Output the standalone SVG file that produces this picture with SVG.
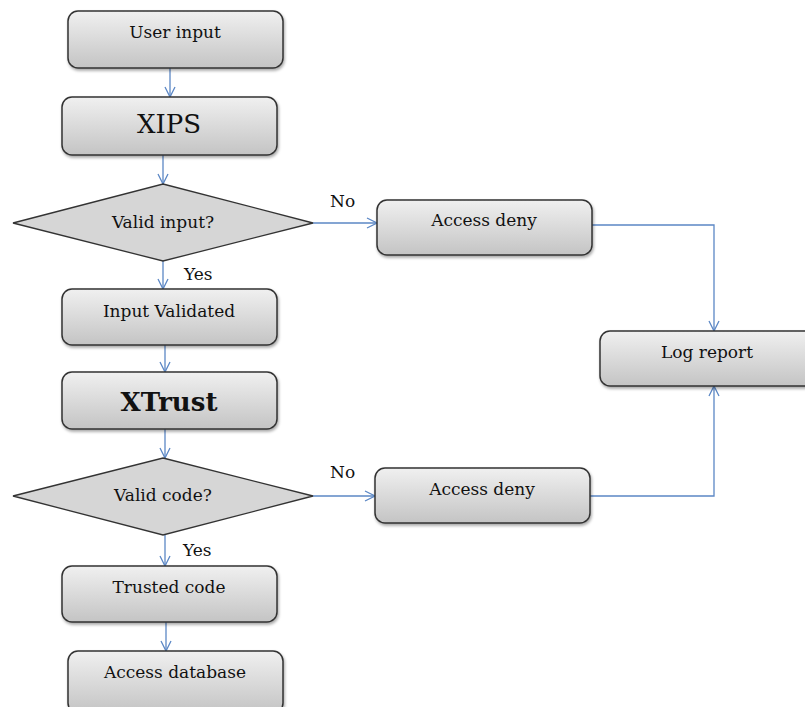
<svg xmlns="http://www.w3.org/2000/svg" width="805" height="707" viewBox="0 0 805 707">
<defs>
<linearGradient id="g" x1="0" y1="0" x2="0" y2="1">
<stop offset="0" stop-color="#f0f0f0"/>
<stop offset="1" stop-color="#c4c4c4"/>
</linearGradient>
<filter id="sh" x="-10%" y="-10%" width="125%" height="135%">
<feDropShadow dx="1" dy="2" stdDeviation="1.5" flood-color="#000" flood-opacity="0.35"/>
</filter>
<marker id="ar" viewBox="0 0 12 12" refX="11" refY="6" markerWidth="12" markerHeight="12" markerUnits="userSpaceOnUse" orient="auto">
<path d="M1,1 L11,6 L1,11" fill="none" stroke="#5b87c5" stroke-width="1.3"/>
</marker>
</defs>
<style>
.box{fill:url(#g);stroke:#333;stroke-width:1.5;filter:url(#sh)}
.dia{fill:#d6d6d6;stroke:#333;stroke-width:1.3}
.t{font-family:"DejaVu Serif","Liberation Serif",serif;font-size:17px;fill:#111;text-anchor:middle}
.big{font-family:"DejaVu Serif","Liberation Serif",serif;font-size:26px;fill:#111;text-anchor:middle}
.lb{font-family:"DejaVu Serif","Liberation Serif",serif;font-size:17px;fill:#111}
.c{fill:none;stroke:#5b87c5;stroke-width:1.3;marker-end:url(#ar)}
</style>
<rect width="805" height="707" fill="#fff"/>
<g id="connectors">
<line class="c" x1="170" y1="68" x2="170" y2="97"/>
<line class="c" x1="163" y1="155" x2="163" y2="184"/>
<line class="c" x1="313" y1="223" x2="377" y2="223"/>
<polyline class="c" points="592,225 714,225 714,331"/>
<line class="c" x1="163" y1="261" x2="163" y2="289"/>
<line class="c" x1="165" y1="345" x2="165" y2="372"/>
<line class="c" x1="165" y1="429" x2="165" y2="458"/>
<line class="c" x1="313" y1="496" x2="375" y2="496"/>
<polyline class="c" points="590,496 714,496 714,386"/>
<line class="c" x1="165" y1="535" x2="165" y2="566"/>
<line class="c" x1="166" y1="622" x2="166" y2="651"/>
<text class="lb" x="330" y="207">No</text>
<text class="lb" x="184" y="280">Yes</text>
<text class="lb" x="330" y="478">No</text>
<text class="lb" x="183" y="556">Yes</text>
</g>
<g id="user-input">
<rect class="box" x="68" y="11" width="215" height="57" rx="10"/>
<text class="t" x="175" y="38">User input</text>
</g>
<g id="xips">
<rect class="box" x="62" y="97" width="215" height="58" rx="10"/>
<text class="big" x="169" y="133">XIPS</text>
</g>
<g id="valid-input">
<polygon class="dia" points="163,184 313,223 163,261 13,223"/>
<text class="t" x="163" y="228">Valid input?</text>
</g>
<g id="access-deny-1">
<rect class="box" x="377" y="200" width="215" height="55" rx="10"/>
<text class="t" x="484" y="226">Access deny</text>
</g>
<g id="log-report">
<rect class="box" x="600" y="331" width="215" height="55" rx="10"/>
<text class="t" x="707" y="358">Log report</text>
</g>
<g id="input-validated">
<rect class="box" x="62" y="289" width="215" height="56" rx="10"/>
<text class="t" x="169" y="317">Input Validated</text>
</g>
<g id="xtrust">
<rect class="box" x="62" y="372" width="215" height="57" rx="10"/>
<text class="big" x="169" y="411" font-weight="bold" font-size="28">XTrust</text>
</g>
<g id="valid-code">
<polygon class="dia" points="163,458 313,496 163,535 13,496"/>
<text class="t" x="163" y="501">Valid code?</text>
</g>
<g id="access-deny-2">
<rect class="box" x="375" y="468" width="215" height="55" rx="10"/>
<text class="t" x="482" y="495">Access deny</text>
</g>
<g id="trusted-code">
<rect class="box" x="62" y="566" width="215" height="56" rx="10"/>
<text class="t" x="169" y="593">Trusted code</text>
</g>
<g id="access-database">
<rect class="box" x="68" y="651" width="215" height="62" rx="10"/>
<text class="t" x="175" y="678">Access database</text>
</g>
</svg>
